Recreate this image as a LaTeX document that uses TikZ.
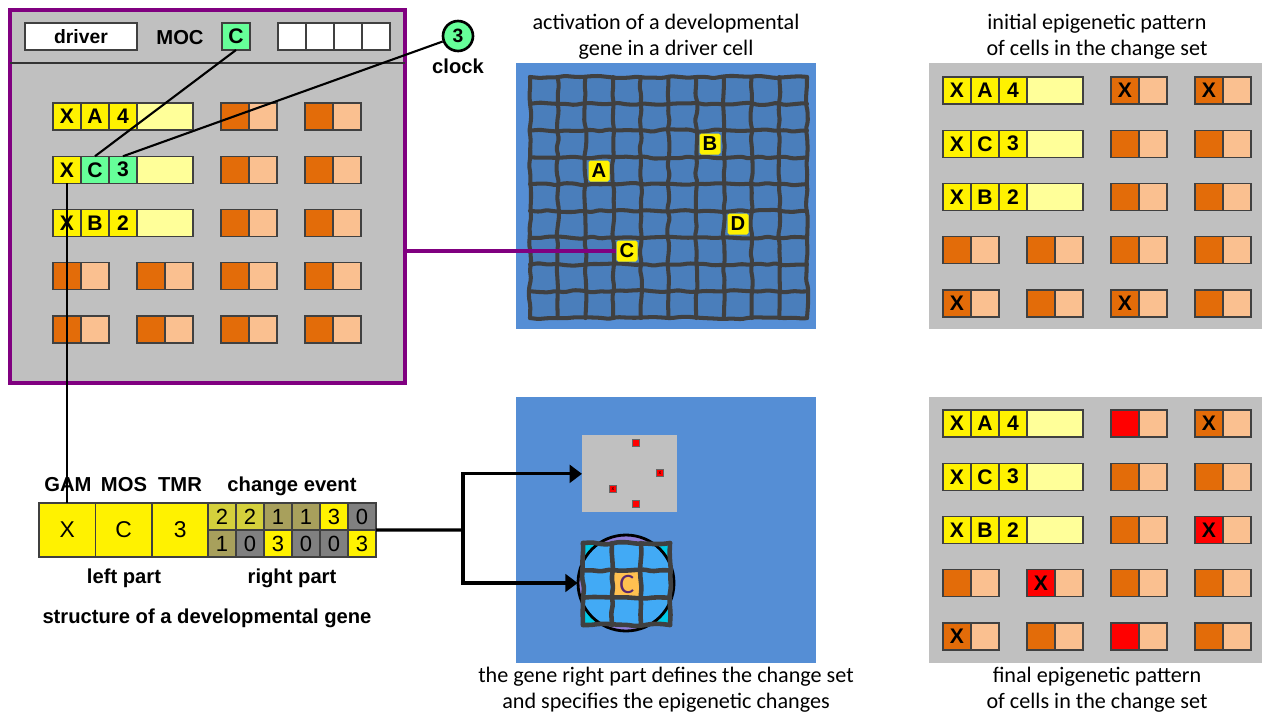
\documentclass[tikz,border=0pt]{standalone}
\usepackage{fontspec}
\setmainfont{Liberation Sans}
\newfontfamily\capfont{Carlito}
\usepackage{tikz}
\usetikzlibrary{positioning,arrows.meta,decorations.pathmorphing}

\definecolor{panelgray}{RGB}{192,192,192}
\definecolor{drvpurple}{RGB}{128,0,128}
\definecolor{epidark}{RGB}{227,108,9}
\definecolor{epilight}{RGB}{250,192,144}
\definecolor{genepale}{RGB}{255,255,153}
\definecolor{mocgreen}{RGB}{102,255,153}
\definecolor{tissue}{RGB}{85,142,213}
\definecolor{tissuecell}{RGB}{74,126,187}
\definecolor{wallgray}{RGB}{64,64,64}
\definecolor{olivea}{RGB}{212,208,60}
\definecolor{oliveb}{RGB}{168,160,92}
\definecolor{gapgray}{RGB}{128,128,128}
\definecolor{zoomblue}{RGB}{66,170,245}
\definecolor{zoomcyan}{RGB}{0,200,230}
\definecolor{lavender}{RGB}{142,124,216}
\definecolor{cellorange}{RGB}{255,192,80}
\definecolor{moctext}{RGB}{90,40,110}

\begin{document}
\begin{tikzpicture}[x=0.02cm, y=-0.02cm,
  cellbox/.style={draw=black!75, line width=0.6pt, inner sep=0pt, outer sep=0pt, anchor=north west,
    minimum width=0.56cm, minimum height=0.54cm, font=\bfseries\fontsize{12}{12}\selectfont},
  gam/.style={cellbox, fill=yellow},
  genetail/.style={cellbox, fill=genepale, minimum width=1.12cm},
  epi/.style={cellbox, fill=epidark},
  epioff/.style={cellbox, fill=epilight},
  gcell/.style={cellbox, font=\fontsize{12.5}{12.5}\selectfont},
  lab/.style={anchor=base, font=\bfseries\fontsize{11.5}{13}\selectfont},
  captext/.style={align=center, font=\capfont\fontsize{12.6}{14.7}\selectfont},
  wire/.style={line width=1.2pt},
  bigwire/.style={line width=1.8pt},
  wallline/.style={draw=wallgray, line width=2.3pt, line cap=round, decorate,
    decoration={random steps, segment length=5pt, amplitude=0.7pt}, rounded corners=1pt},
  genetag/.style={fill=yellow, inner sep=0pt, minimum size=0.42cm, rounded corners=1pt,
    font=\bfseries\fontsize{11.5}{11.5}\selectfont}]
\pgfmathsetseed{7}
\useasboundingbox (0,0) rectangle (1262,714);

% driver cell
\node[draw=drvpurple, line width=2pt, fill=panelgray, anchor=north west, inner sep=0pt, outer sep=0pt,
  minimum width=7.9cm, minimum height=7.46cm] (drvcell) at (10,10) {};
\draw[black!80, line width=0.6pt] (10,63) -- (405,63);
\node[cellbox, fill=white, minimum width=2.24cm, font=\bfseries\fontsize{11}{11}\selectfont] (drv) at (25,23) {driver};
\node[lab] (moc) at (180,44) {MOC};
\node[cellbox, fill=mocgreen] (mocc) at (222,23) {C};
\foreach \k in {0,...,3}
  \node[cellbox, fill=white] (reg\k) at ({278+28*\k},23) {};

\foreach \rw/\gm/\gt/\gf in {1/A/4/yellow, 2/C/3/mocgreen, 3/B/2/yellow} {
  \node[gam] (g\rw x) at (53,{103+53.25*(\rw-1)}) {X};
  \node[gam, fill=\gf, right=0pt of g\rw x] (g\rw m) {\gm};
  \node[gam, fill=\gf, right=0pt of g\rw m] (g\rw t) {\gt};
  \node[genetail, right=0pt of g\rw t] (g\rw p) {};
}
\foreach \rw in {1,2,3} \foreach \cl in {3,4} {
  \node[epi] (l\cl\rw) at ({53+84*(\cl-1)},{103+53.25*(\rw-1)}) {};
  \node[epioff, right=0pt of l\cl\rw] (l\cl\rw o) {};
}
\foreach \rw in {4,5} \foreach \cl in {1,...,4} {
  \node[epi] (l\cl\rw) at ({53+84*(\cl-1)},{103+53.25*(\rw-1)}) {};
  \node[epioff, right=0pt of l\cl\rw] (l\cl\rw o) {};
}

% clock
\node[circle, draw, line width=1.5pt, fill=mocgreen, minimum size=0.6cm, inner sep=0pt,
  font=\bfseries\fontsize{11}{11}\selectfont] (clk) at (458,36) {3};
\node[lab, anchor=north] (clklab) at (clk.south) {clock};

\draw[wire] (mocc.south) -- (g2m.north);
\draw[wire] (clk) -- (g2t.north);

% tissue with the driver cell
\node[captext] (actcap) at (666,37) {activation of a developmental\\gene in a driver cell};
\fill[tissue] (516,63) rectangle (816,329);
\fill[tissuecell] (530,77) rectangle (807,318);
\foreach \k in {0,...,10}
  \draw[wallline] ({530+27.7*\k},77) -- ({530+27.7*\k},318);
\foreach \k in {0,...,9}
  \draw[wallline] (530,{77+26.78*\k}) -- (807,{77+26.78*\k});
\node[genetag] (tA) at (599,171) {A};
\node[genetag] (tB) at (710,144) {B};
\node[genetag] (tC) at (627,251) {C};
\node[genetag] (tD) at (738,224) {D};
\draw[drvpurple, line width=1.8pt] (tC.west -| drvcell.east) -- (tC.west);

% initial and final patterns
\node[captext] (inicap) at (1097,37) {initial epigenetic pattern\\of cells in the change set};
\node[captext] (fincap) at (1097,690) {final epigenetic pattern\\of cells in the change set};
\fill[panelgray] (929,63) rectangle (1262,329);
\fill[panelgray] (929,397) rectangle (1262,663);
\foreach \pn/\oy in {i/77, f/410} \foreach \rw/\gm/\gt in {1/A/4, 2/C/3, 3/B/2} {
  \node[gam] (\pn\rw x) at (943,{\oy+53.25*(\rw-1)}) {X};
  \node[gam, right=0pt of \pn\rw x] (\pn\rw m) {\gm};
  \node[gam, right=0pt of \pn\rw m] (\pn\rw t) {\gt};
  \node[genetail, right=0pt of \pn\rw t] (\pn\rw p) {};
}
\foreach \cl/\rw/\mk in {3/1/X, 4/1/X, 3/2/{}, 4/2/{}, 3/3/{}, 4/3/{}, 1/4/{}, 2/4/{}, 3/4/{}, 4/4/{},
    1/5/X, 2/5/{}, 3/5/X, 4/5/{}} {
  \node[epi] (i\cl\rw) at ({943+84*(\cl-1)},{77+53.25*(\rw-1)}) {\mk};
  \node[epioff, right=0pt of i\cl\rw] (i\cl\rw o) {};
}
\foreach \cl/\rw/\mk/\fc in {3/1/{}/red, 4/1/X/epidark, 3/2/{}/epidark, 4/2/{}/epidark, 3/3/{}/epidark,
    4/3/X/red, 1/4/{}/epidark, 2/4/X/red, 3/4/{}/epidark, 4/4/{}/epidark, 1/5/X/epidark,
    2/5/{}/epidark, 3/5/{}/red, 4/5/{}/epidark} {
  \node[epi, fill=\fc] (f\cl\rw) at ({943+84*(\cl-1)},{410+53.25*(\rw-1)}) {\mk};
  \node[epioff, right=0pt of f\cl\rw] (f\cl\rw o) {};
}

% structure of a developmental gene
\node[gam, minimum width=1.13cm, minimum height=1.08cm, font=\fontsize{13}{13}\selectfont] (sx) at (39,503) {X};
\node[gam, minimum width=1.13cm, minimum height=1.08cm, font=\fontsize{13}{13}\selectfont, right=0pt of sx] (sm) {C};
\node[gam, minimum width=1.13cm, minimum height=1.08cm, font=\fontsize{13}{13}\selectfont, right=0pt of sm] (st) {3};
\foreach \k/\up/\fu/\dn/\fd in {1/2/olivea/1/oliveb, 2/2/olivea/0/gapgray, 3/1/oliveb/3/yellow,
    4/1/oliveb/0/gapgray, 5/3/yellow/0/gapgray, 6/0/gapgray/3/yellow} {
  \node[gcell, fill=\fu] (ru\k) at ({208+28*(\k-1)},503) {\up};
  \node[gcell, fill=\fd, below=0pt of ru\k] (rd\k) {\dn};
}
\node[lab] (lgam) at (68,491) {GAM};
\node[lab] (lmos) at (124,491) {MOS};
\node[lab] (ltmr) at (180,491) {TMR};
\node[lab] (lchg) at (292,491) {change event};
\node[lab] (lleft) at (124,583) {left part};
\node[lab] (lright) at (292,583) {right part};
\node[lab] (lstruct) at (207,623) {structure of a developmental gene};
\draw[wire] (g2x.south) -- (g2x.south |- sx.north);

% change set
\node[captext] (setcap) at (666,690) {the gene right part defines the change set\\and specifies the epigenetic changes};
\fill[tissue] (516,397) rectangle (816,663);
\node[fill=panelgray, anchor=north west, minimum width=1.9cm, minimum height=1.54cm, inner sep=0pt] (cset) at (582,435) {};
\foreach \k/\px/\py/\mk in {1/636/443/{}, 2/660/473/x, 3/613/489/x, 4/636/504/{}}
  \node[draw=black!60, line width=0.3pt, fill=red, minimum size=0.15cm, inner sep=0pt,
    font=\fontsize{3}{3}\selectfont] (hit\k) at (\px,\py) {\mk};

\node[circle, fill=lavender, minimum size=1.92cm, inner sep=0pt] (zoomc) at (626,583) {};
\fill[zoomcyan] (583,543) rectangle (670,625);
\begin{scope}
  \clip (626,583) circle [radius=0.96cm];
  \fill[zoomblue] (583,543) rectangle (670,625);
\end{scope}
\node[fill=cellorange, anchor=north west, minimum width=0.58cm, minimum height=0.546cm, inner sep=0pt] (zc) at (612,570.3) {};
\draw[line width=1.6pt] (626,583) circle [radius=0.96cm];
\foreach \k in {0,...,3}
  \draw[wallline, line width=2.6pt] ({583+29*\k},543) -- ({583+29*\k},625);
\foreach \k in {0,...,3}
  \draw[wallline, line width=2.6pt] (583,{543+27.33*\k}) -- (670,{543+27.33*\k});
\node[text=moctext, font=\capfont\fontsize{16}{16}\selectfont] (zcl) at (zc) {C};

% fork to the change set
\coordinate (fork) at (463,530);
\draw[bigwire] (rd6.north east) -- (fork);
\draw[bigwire, line cap=rect] (fork |- cset.west) -- (fork |- zoomc.west);
\draw[bigwire, -{Triangle[length=7pt,width=10pt]}] (fork |- cset.west) -- (cset.west);
\draw[bigwire, -{Triangle[length=7pt,width=10pt]}] (fork |- zoomc.west) -- (zoomc.west);
\end{tikzpicture}
\end{document}
